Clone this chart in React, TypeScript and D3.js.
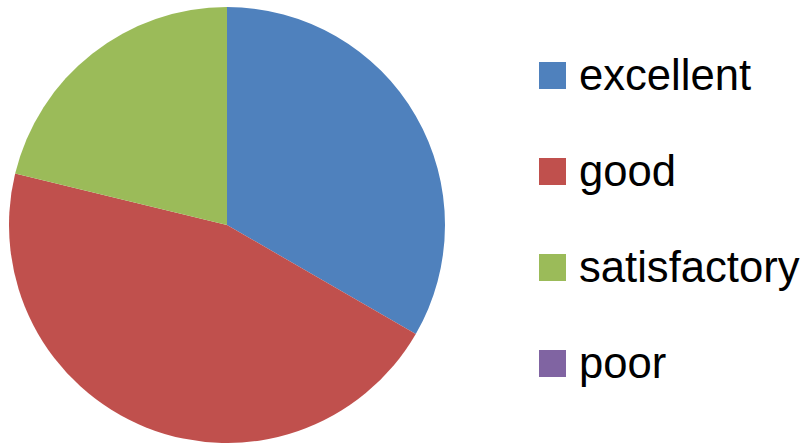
import * as d3 from "d3";

const categories = ["excellent", "good", "satisfactory", "poor"];
const counts = [11, 15, 7, 0];
const colors = ["#4F81BD", "#C0504D", "#9BBB59", "#8064A2"];

const W = 810;
const H = 443;

export default function App() {
  const cx = 227;
  const cy = 225;
  const r = 218;

  const pie = d3
    .pie<number>()
    .sort(null)
    .value((d) => d);
  const arcs = pie(counts);
  const arc = d3.arc<d3.PieArcDatum<number>>().innerRadius(0).outerRadius(r);

  // legend rows
  const legendY = d3
    .scalePoint<string>()
    .domain(categories)
    .range([90, 378]);

  return (
    <div style={{ position: "fixed", left: 0, top: 0 }}>
      <svg width={W} height={H} style={{ display: "block", background: "#fff" }}>
        <g transform={`translate(${cx},${cy})`}>
          {arcs.map((a, i) => (
            <path key={i} d={arc(a) ?? ""} fill={colors[i]} />
          ))}
        </g>
        <g style={{ fontFamily: "'Liberation Sans', Arial, sans-serif", fontSize: 43.6 }}>
          {categories.map((c, i) => {
            const y = legendY(c) ?? 0;
            return (
              <g key={c}>
                <rect x={539} y={y - 28} width={27} height={27} fill={colors[i]} />
                <text x={579} y={y} fill="#000">
                  {c}
                </text>
              </g>
            );
          })}
        </g>
      </svg>
    </div>
  );
}
